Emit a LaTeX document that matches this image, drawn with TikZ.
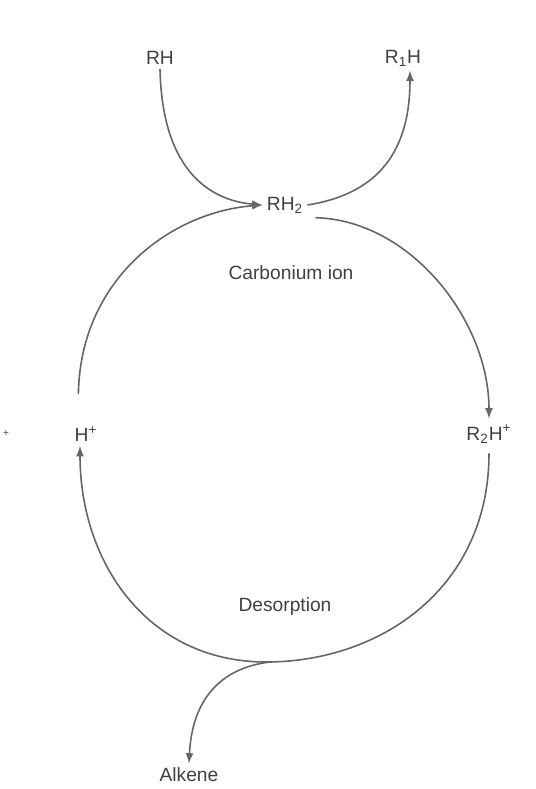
\documentclass[tikz,border=0pt]{standalone}
\usepackage{fontspec}
\setmainfont{Liberation Sans}
\usepackage{tikz}
\usetikzlibrary{calc}

\begin{document}
\begin{tikzpicture}
		[
		x=0.5pt, y=-0.5pt, font=\fontsize{9.6}{11}\selectfont, >=latex,
		%Voreinstellung fuer Pfeile und Texte
		pfeil/.style={->, draw=black!60, line width=0.8pt},
		linie/.style={draw=black!60, line width=0.8pt},
		stoff/.style={text=black!75, inner sep=2pt}
		]
		
		%Rahmen
		\useasboundingbox (0,0) rectangle (536,789);
		
		%Stoffe
		\node[stoff] (rh) at (160,58) {RH};
		\node[stoff] (rone) at (403,58) {R\textsubscript{1}H};
		\node[stoff] (rhtwo) at (285,205) {RH\textsubscript{2}};
		\node[stoff] (carb) at (291,273) {Carbonium ion};
		\node[stoff] (hplus) at (86,434) {H\textsuperscript{+}};
		\node[stoff] (rtwo) at (489,434) {R\textsubscript{2}H\textsuperscript{+}};
		\node[stoff] (desorp) at (285,607) {Desorption};
		\node[stoff] (alkene) at (189,775) {Alkene};
		\node[stoff, font=\tiny] (plus) at (6,434) {+};
		
		%unterster Punkt des Kreises
		\coordinate (bot) at (270,662);
		
		%RH zu RH2
		\draw[pfeil] (rh.south) .. controls (162,165) and (205,200) .. (rhtwo.west);
		
		%RH2 zu R1H
		\draw[pfeil] (rhtwo.east) .. controls (370,195) and (410,160) .. ($(rone.south)+(7,0)$);
		
		%Kreis rechts oben
		\draw[pfeil, shorten <=4pt, shorten >=1pt] (rhtwo.south east) .. controls (410,220) and (489,320) .. (rtwo.north);
		
		%Kreis unten
		\draw[linie, shorten <=3pt] (rtwo.south) .. controls (489,585) and (385,660) .. (bot);
		\draw[pfeil] (bot) .. controls (150,664) and (80,565) .. ($(hplus.south)+(-6,0)$);
		
		%Kreis links oben
		\draw[pfeil, shorten <=14pt] ($(hplus.north)+(-8,0)$) .. controls (80,280) and (170,212) .. (rhtwo.west);
		
		%Alken
		\draw[pfeil] (bot) .. controls (220,668) and (192,700) .. (alkene.north);
		
\end{tikzpicture}
\end{document}
